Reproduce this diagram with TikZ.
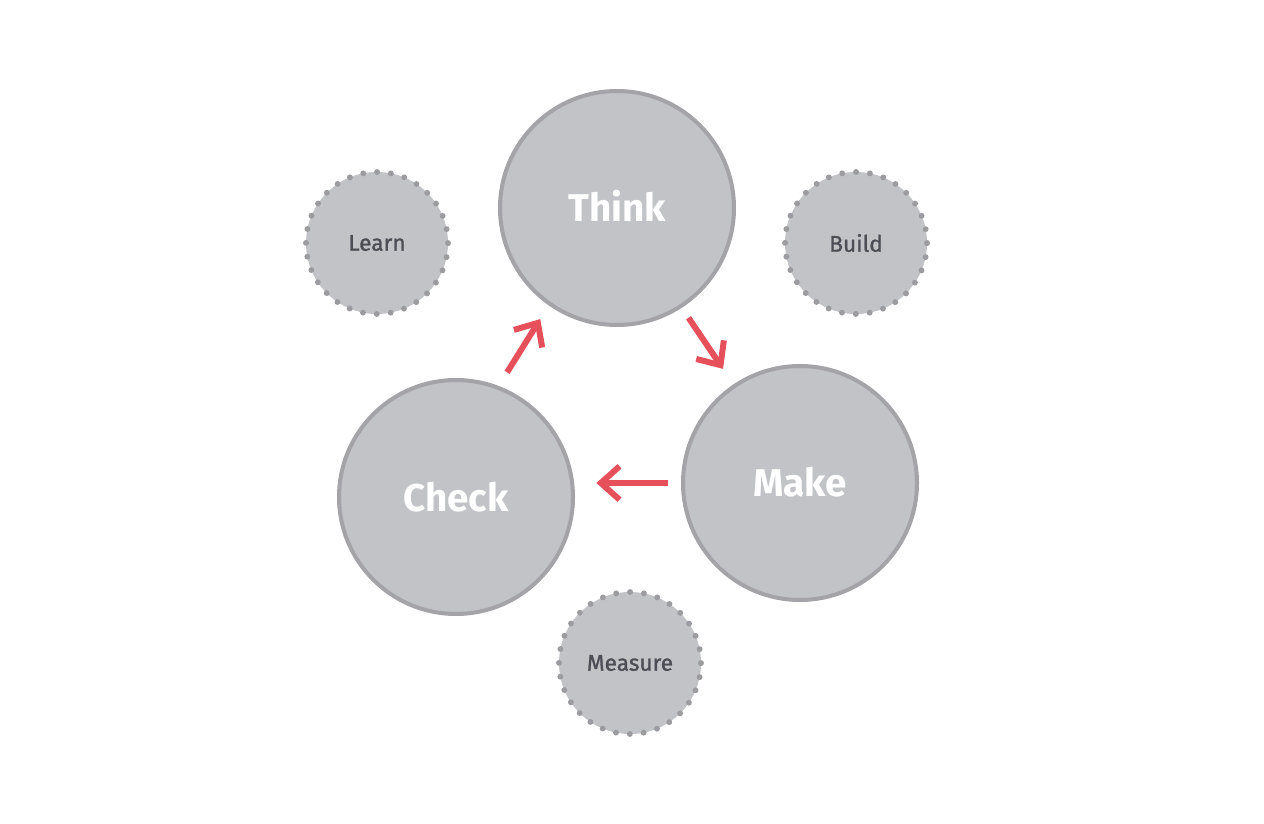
\documentclass[tikz,border=0pt]{standalone}
\usepackage{fontspec}
\setmainfont{Fira Sans}
\newfontfamily\labelfont{Fira Sans}[FakeBold=1.2]
\usetikzlibrary{arrows.meta}
\usetikzlibrary{positioning}

\definecolor{discfill}{RGB}{194,195,199}
\definecolor{discline}{RGB}{164,163,167}
\definecolor{dotline}{RGB}{155,155,160}
\definecolor{smalltext}{RGB}{76,78,86}
\definecolor{loopred}{RGB}{229,80,91}

\begin{document}
\begin{tikzpicture}[
        x=0.75pt, y=-0.75pt,
        % Style for the three big steps
        bigstep/.style={circle, draw=discline, line width=3pt, fill=discfill, minimum size=175.5pt, inner sep=0pt, text=white, font=\bfseries\fontsize{29}{33}\selectfont},
        % Style for the small dotted circles
        sidestep/.style={circle, draw=dotline, line width=4.4pt, line cap=round, dash pattern=on 0pt off 10.45pt, fill=discfill, minimum size=106.5pt, inner sep=0pt, text=smalltext, font=\labelfont\fontsize{17}{20}\selectfont},
        % Style for the red arrows
        flow/.style={draw=loopred, line width=4.5pt, -{Straight Barb[length=14pt, width=25pt, line width=4.5pt]}}
    ]
    \useasboundingbox (0,0) rectangle (1264,824);

    % --- big circles ---
    \node[bigstep] (think) at (617,208) {\raisebox{3pt}{Think}};
    \node[bigstep] (make) at (800,483) {\raisebox{2pt}{Make}};
    \node[bigstep] (check) at (456,497) {\raisebox{1pt}{Check}};

    % --- small dotted circles ---
    \node[sidestep] (learn) at (377,243) {Learn};
    \node[sidestep] (build) at (856,243) {Build};
    \node[sidestep] (measure) at (630,663) {Measure};

    % --- arrows ---
    \draw[flow, shorten <=12pt, shorten >=12pt] (check.69) -- (think.235);
    \draw[flow, shorten <=9pt, shorten >=14pt] (think.-57) -- (make.124);
    \draw[flow, shorten <=10pt, shorten >=16pt] (make.west) -- (make.west -| check.east);

\end{tikzpicture}
\end{document}
